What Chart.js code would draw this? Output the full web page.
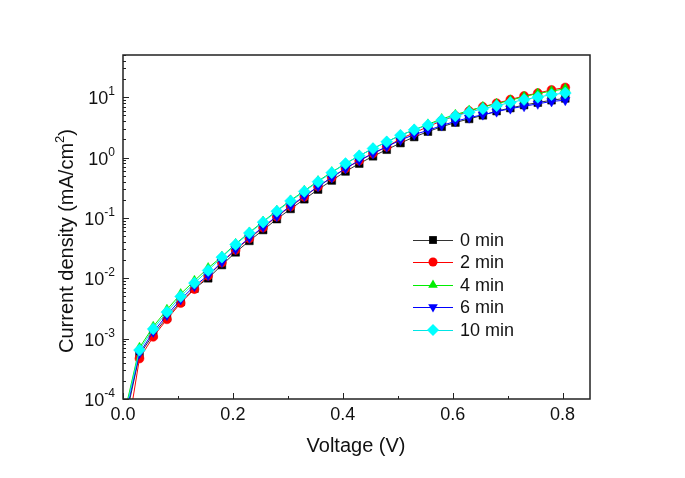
<!DOCTYPE html>
<html>
<head>
<meta charset="utf-8">
<script src="https://cdn.jsdelivr.net/npm/chart.js@4.4.0/dist/chart.umd.min.js"></script>
<style>
  body { margin: 0; background: #fff; }
  canvas { display: block; }
</style>
</head>
<body>
<canvas id="chart" width="685" height="478"></canvas>
<script>
// Voltage (V) - first point sits below the axis, markers start at 0.03 V
const voltage = [0.0, 0.03, 0.055, 0.08, 0.105, 0.13, 0.155, 0.18, 0.205, 0.23, 0.255,
  0.28, 0.305, 0.33, 0.355, 0.38, 0.405, 0.43, 0.455, 0.48, 0.505, 0.53, 0.555,
  0.58, 0.605, 0.63, 0.655, 0.68, 0.705, 0.73, 0.755, 0.78, 0.805];

// Current density (mA/cm2)
const j0min = [3e-5, 5.37e-4, 1.17e-3, 2.24e-3, 4.07e-3, 6.76e-3, 1.00e-2, 1.66e-2, 2.69e-2, 4.17e-2, 6.31e-2,
  9.55e-2, 0.141, 0.204, 0.295, 0.417, 0.589, 0.794, 1.05, 1.35, 1.74, 2.19, 2.69,
  3.24, 3.80, 4.37, 5.01, 5.89, 6.61, 7.41, 8.13, 8.91, 9.55];
const j2min = [1e-5, 4.68e-4, 1.07e-3, 2.09e-3, 3.89e-3, 6.61e-3, 1.10e-2, 1.82e-2, 2.95e-2, 4.57e-2, 6.92e-2,
  0.105, 0.155, 0.224, 0.331, 0.468, 0.661, 0.891, 1.17, 1.51, 2.04, 2.57, 3.24,
  4.07, 4.90, 5.89, 6.92, 7.94, 9.12, 10.5, 11.7, 13.2, 14.5];
const j4min = [4.5e-5, 7.08e-4, 1.58e-3, 3.02e-3, 5.50e-3, 9.12e-3, 1.48e-2, 2.29e-2, 3.72e-2, 5.75e-2, 8.71e-2,
  0.132, 0.195, 0.282, 0.407, 0.575, 0.794, 1.07, 1.41, 1.82, 2.34, 2.88, 3.55,
  4.37, 5.13, 6.03, 6.92, 7.76, 8.91, 10.2, 11.5, 12.6, 13.8];
const j6min = [3.5e-5, 5.75e-4, 1.29e-3, 2.45e-3, 4.47e-3, 7.41e-3, 1.12e-2, 1.86e-2, 3.02e-2, 4.68e-2, 7.08e-2,
  0.107, 0.158, 0.229, 0.331, 0.468, 0.661, 0.891, 1.17, 1.51, 1.95, 2.40, 2.82,
  3.39, 3.98, 4.57, 5.13, 5.75, 6.46, 7.08, 7.76, 8.51, 8.91];
const j10min = [4e-5, 6.46e-4, 1.45e-3, 2.75e-3, 5.01e-3, 8.32e-3, 1.35e-2, 2.24e-2, 3.63e-2, 5.62e-2, 8.51e-2,
  0.129, 0.191, 0.275, 0.398, 0.562, 0.794, 1.07, 1.41, 1.82, 2.34, 2.88, 3.47,
  4.17, 4.90, 5.62, 6.46, 7.24, 8.13, 9.12, 10.0, 11.0, 11.7];

const xTicks = [0.0, 0.2, 0.4, 0.6, 0.8];
const xMinor = [0.1, 0.3, 0.5, 0.7];
const yExponents = [-4, -3, -2, -1, 0, 1];

const FONT = '"Liberation Sans", Arial, sans-serif';

const series = [
  { label: '0 min',  data: j0min,  color: '#000000', line: '#333333', style: 'rect',     r: 5.5, rot: 0 },
  { label: '2 min',  data: j2min,  color: '#ff0000', line: '#ff0000', style: 'circle',   r: 4.5, rot: 0 },
  { label: '4 min',  data: j4min,  color: '#00ee00', line: '#00ee00', style: 'triangle', r: 5.5, rot: 0 },
  { label: '6 min',  data: j6min,  color: '#0000ff', line: '#0000ff', style: 'triangle', r: 5.5, rot: 180 },
  { label: '10 min', data: j10min, color: '#00ffff', line: '#00e5e5', style: 'rectRot',  r: 6,   rot: 0 }
];

function drawMarker(ctx, s, x, y) {
  ctx.fillStyle = s.color;
  ctx.beginPath();
  const r = s.r;
  if (s.style === 'rect') {
    const h = r * Math.SQRT1_2;
    ctx.rect(x - h, y - h, 2 * h, 2 * h);
  } else if (s.style === 'circle') {
    ctx.arc(x, y, r, 0, Math.PI * 2);
  } else if (s.style === 'triangle') {
    const d = s.rot ? -1 : 1;
    ctx.moveTo(x, y - d * r);
    ctx.lineTo(x - r * 0.87, y + d * r * 0.5);
    ctx.lineTo(x + r * 0.87, y + d * r * 0.5);
    ctx.closePath();
  } else {
    ctx.moveTo(x, y - r);
    ctx.lineTo(x + r, y);
    ctx.lineTo(x, y + r);
    ctx.lineTo(x - r, y);
    ctx.closePath();
  }
  ctx.fill();
}

const framePlugin = {
  id: 'frame',
  afterDraw(chart) {
    const { ctx, chartArea: a, scales } = chart;
    const xs = scales.x, ys = scales.y;
    ctx.save();

    // box
    ctx.strokeStyle = '#222';
    ctx.lineWidth = 1.5;
    ctx.strokeRect(a.left, a.top, a.right - a.left, a.bottom - a.top);

    // inward ticks
    ctx.lineWidth = 1;
    ctx.beginPath();
    xTicks.forEach(v => {
      const px = Math.round(xs.getPixelForValue(v)) + 0.5;
      ctx.moveTo(px, a.bottom); ctx.lineTo(px, a.bottom - 6);
    });
    xMinor.forEach(v => {
      const px = Math.round(xs.getPixelForValue(v)) + 0.5;
      ctx.moveTo(px, a.bottom); ctx.lineTo(px, a.bottom - 3);
    });
    yExponents.forEach(e => {
      for (let m = 1; m <= 9; m++) {
        const v = m * Math.pow(10, e);
        if (v > ys.max) break;
        const py = Math.round(ys.getPixelForValue(v)) + 0.5;
        ctx.moveTo(a.left, py); ctx.lineTo(a.left + (m === 1 ? 6 : 3), py);
      }
    });
    ctx.stroke();

    // x tick labels
    ctx.fillStyle = '#111';
    ctx.font = '18px ' + FONT;
    ctx.textAlign = 'center';
    ctx.textBaseline = 'middle';
    xTicks.forEach(v => {
      ctx.fillText(v.toFixed(1), xs.getPixelForValue(v), 415);
    });

    // y tick labels: 10 with superscript exponent
    ctx.textAlign = 'left';
    ctx.textBaseline = 'alphabetic';
    yExponents.forEach(e => {
      const py = ys.getPixelForValue(Math.pow(10, e));
      ctx.font = '12px ' + FONT;
      const expW = ctx.measureText(String(e)).width;
      ctx.font = '18px ' + FONT;
      const baseW = ctx.measureText('10').width;
      const right = 115;
      ctx.fillText('10', right - expW - baseW, py + 7);
      ctx.font = '12px ' + FONT;
      ctx.fillText(String(e), right - expW, py - 2);
    });

    // axis titles
    ctx.font = '20px ' + FONT;
    ctx.textAlign = 'center';
    ctx.textBaseline = 'middle';
    ctx.fillText('Voltage (V)', 356, 446);

    ctx.save();
    ctx.translate(66, 241);
    ctx.rotate(-Math.PI / 2);
    ctx.textAlign = 'left';
    ctx.textBaseline = 'alphabetic';
    const t1 = 'Current density (mA/cm', t2 = '2', t3 = ')';
    ctx.font = '20px ' + FONT;
    const w1 = ctx.measureText(t1).width, w3 = ctx.measureText(t3).width;
    ctx.font = '13px ' + FONT;
    const w2 = ctx.measureText(t2).width;
    let sx = -(w1 + w2 + w3) / 2;
    ctx.font = '20px ' + FONT;
    ctx.fillText(t1, sx, 7);
    ctx.font = '13px ' + FONT;
    ctx.fillText(t2, sx + w1, -2);
    ctx.font = '20px ' + FONT;
    ctx.fillText(t3, sx + w1 + w2, 7);
    ctx.restore();

    // legend
    const rows = [240, 262, 285, 307, 330];
    ctx.font = '18px ' + FONT;
    ctx.textAlign = 'left';
    ctx.textBaseline = 'middle';
    series.forEach((s, i) => {
      const y = rows[i];
      ctx.strokeStyle = s.line;
      ctx.lineWidth = 1;
      ctx.beginPath();
      ctx.moveTo(413, y + 0.5); ctx.lineTo(453, y + 0.5);
      ctx.stroke();
      drawMarker(ctx, s, 433, y);
      ctx.fillStyle = '#111';
      ctx.fillText(s.label, 460, y + 1);
    });

    ctx.restore();
  }
};

const datasets = series.map((s, i) => ({
  label: s.label,
  data: voltage.map((v, k) => ({ x: v, y: s.data[k] })),
  showLine: true,
  borderColor: s.line,
  borderWidth: 1,
  backgroundColor: s.color,
  pointStyle: s.style,
  pointRotation: s.rot,
  pointRadius: ctx => ctx.dataIndex === 0 ? 0 : s.r,
  pointBackgroundColor: s.color,
  pointBorderColor: s.color,
  pointBorderWidth: 0.5,
  order: series.length - i
}));

new Chart(document.getElementById('chart'), {
  type: 'scatter',
  data: { datasets: datasets },
  options: {
    responsive: false,
    animation: false,
    layout: { padding: { top: 55, right: 95, left: 0, bottom: 0 } },
    plugins: { legend: { display: false }, tooltip: { enabled: false } },
    scales: {
      x: {
        type: 'linear', min: 0, max: 0.85,
        grid: { display: false }, border: { display: false },
        ticks: { display: false },
        afterFit: s => { s.height = 79; }
      },
      y: {
        type: 'logarithmic', min: 1e-4, max: 50,
        grid: { display: false }, border: { display: false },
        ticks: { display: false },
        afterFit: s => { s.width = 123; }
      }
    }
  },
  plugins: [framePlugin]
});
</script>
</body>
</html>
